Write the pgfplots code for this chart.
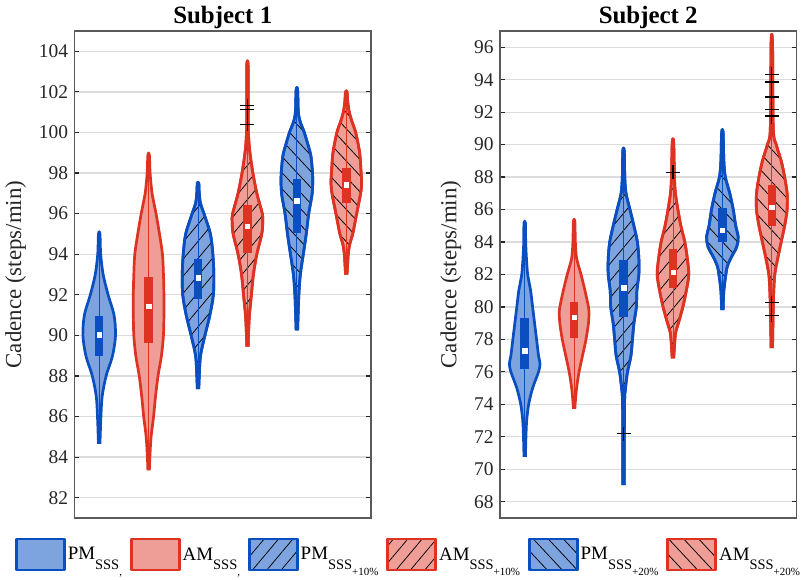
\documentclass[border=0pt]{standalone}
\usepackage{fontspec}
\setmainfont{Liberation Serif}
\usepackage{pgfplots}
\pgfplotsset{compat=1.18}
\usetikzlibrary{patterns.meta}

\definecolor{bedge}{RGB}{10,78,192}
\definecolor{bfill}{RGB}{125,164,222}
\definecolor{redge}{RGB}{222,50,34}
\definecolor{rfill}{RGB}{238,158,150}
\definecolor{gridc}{RGB}{220,220,220}
\definecolor{framec}{RGB}{90,90,90}

% violin outline: #1 centre, #2 style, #3 list of y/halfwidth (bottom to top)
\newcommand\violin[3]{%
  \gdef\vR{}\gdef\vL{}%
  \foreach \yy/\ww in {#3}{%
    \pgfmathsetmacro\xr{#1+\ww}%
    \pgfmathsetmacro\xl{#1-\ww}%
    \xdef\vR{\vR(\xr,\yy)}%
    \xdef\vL{(\xl,\yy)\vL}}%
  \edef\vtmp{\noexpand\addplot[#2] coordinates {\vR\vL};}%
  \vtmp}

\newcommand\lab[2]{#1\raisebox{-9.5bp}{\fontsize{14.5}{15}\selectfont SSS\raisebox{-6bp}{\fontsize{11}{12}\selectfont #2}}}

\pgfplotsset{
  panel/.style={
    scale only axis, width=296.5bp, height=487bp,
    xmin=0.5, xmax=6.5, xtick=\empty,
    ytick pos=both, tick align=inside, major tick length=5bp,
    major tick style={draw=black!85, line width=1.2bp},
    axis line style={draw=framec, line width=1.2bp},
    ymajorgrids=true, major grid style={draw=gridc, line width=1.3bp},
    /pgf/number format/assume math mode=true,
    tick label style={font=\fontsize{19.5}{21}\selectfont, text=black!85},
    yticklabel style={xshift=-3bp},
    ylabel={Cadence (steps/min)}, ylabel shift=6bp,
    ylabel style={font=\fontsize{23}{26}\selectfont, text=black!85},
    title style={font=\fontsize{25}{27}\selectfont\bfseries, yshift=-7bp},
    anchor=south west,
  },
  vB/.style={draw=bedge, fill=bfill, line width=2.7bp, line join=round, smooth, tension=0.5},
  vR/.style={draw=redge, fill=rfill, line width=2.7bp, line join=round, smooth, tension=0.5},
  hA/.style={postaction={pattern={Lines[angle=50,distance=11bp,line width=0.75bp]}}},
  hB/.style={postaction={pattern={Lines[angle=-47,distance=11bp,line width=0.75bp]}}},
  bxB/.style={forget plot, bedge, line width=8.5bp},
  bxR/.style={forget plot, redge, line width=8.5bp},
  wkB/.style={forget plot, bedge, line width=0.8bp},
  wkR/.style={forget plot, redge, line width=0.8bp},
  med/.style={forget plot, only marks, mark=square*, mark size=2.2bp, white},
  outl/.style={forget plot, only marks, mark=+, mark size=7bp, black, line width=1.1bp},
}

\begin{document}
\begin{tikzpicture}
\useasboundingbox (-74.5bp,-62bp) rectangle (733.5bp,518bp);

% ---------------- Subject 1 ----------------
\begin{axis}[panel, at={(0bp,0bp)}, title={Subject 1},
  ymin=81, ymax=105, ytick={82,84,...,104},
  legend columns=6,
  legend style={draw=none, fill=none, at={(-0.211,-0.075)}, anchor=west,
    font=\fontsize{19}{21}\selectfont,
    /tikz/every even column/.append style={column sep=6bp}},
  legend image code/.code={\draw[#1] (0bp,-15.5bp) rectangle (48bp,15.5bp);},
]
\violin{1}{vB}{84.65/0.015, 85/0.02, 86/0.035, 87/0.06, 88/0.14, 89/0.27, 90/0.33, 91/0.30, 92/0.18, 93/0.08, 94/0.03, 95/0.015}
\addlegendentry{\lab{PM}{,}}
\violin{2}{vR}{83.35/0.015, 84/0.025, 85/0.05, 86/0.10, 87/0.14, 88/0.19, 89/0.26, 90/0.30, 91/0.31, 92/0.31, 93/0.30, 94/0.28, 95/0.22, 96/0.15, 97/0.07, 98/0.03, 98.9/0.015}
\addlegendentry{\lab{AM}{,}}
\violin{3}{vB,hA}{87.35/0.015, 88/0.025, 89/0.05, 90/0.14, 91/0.24, 92/0.31, 93/0.32, 94/0.30, 95/0.25, 96/0.12, 96.5/0.05, 97/0.025, 97.5/0.015}
\addlegendentry{\lab{PM}{+10\%}}
\violin{4}{vR,hA}{89.45/0.015, 90/0.02, 91/0.04, 92/0.08, 93/0.12, 94/0.19, 95/0.29, 95.6/0.31, 96/0.30, 97/0.19, 98/0.11, 99/0.05, 99.7/0.025, 100.5/0.015, 103.25/0.015}
\addlegendentry{\lab{AM}{+10\%}}
\violin{5}{vB,hB}{90.25/0.015, 91/0.025, 92/0.04, 93/0.07, 94/0.13, 95/0.19, 96/0.24, 97/0.31, 97.8/0.32, 98.5/0.30, 99/0.27, 100/0.15, 100.5/0.07, 101/0.03, 102.1/0.015}
\addlegendentry{\lab{PM}{+20\%}}
\violin{6}{vR,hB}{93/0.015, 94/0.04, 94.5/0.07, 95/0.13, 96/0.21, 97/0.29, 97.5/0.31, 98/0.30, 99/0.27, 100/0.19, 100.5/0.12, 101/0.06, 101.5/0.03, 102/0.015}
\addlegendentry{\lab{AM}{+20\%}}

\addplot[wkB] coordinates {(1,84.8) (1,94.9)};
\addplot[wkR] coordinates {(2,83.5) (2,98.8)};
\addplot[wkB] coordinates {(3,87.5) (3,97.4)};
\addplot[wkR] coordinates {(4,89.6) (4,103.1)};
\addplot[wkB] coordinates {(5,90.4) (5,102.0)};
\addplot[wkR] coordinates {(6,93.1) (6,101.9)};

\addplot[bxB] coordinates {(1,89.0) (1,90.97)};
\addplot[bxR] coordinates {(2,89.6) (2,92.87)};
\addplot[bxB] coordinates {(3,91.8) (3,93.77)};
\addplot[bxR] coordinates {(4,94.06) (4,96.43)};
\addplot[bxB] coordinates {(5,95.04) (5,97.7)};
\addplot[bxR] coordinates {(6,96.52) (6,98.24)};

\addplot[med] coordinates {(1,90.03) (2,91.44) (3,92.84) (4,95.37) (5,96.63) (6,97.42)};
\addplot[outl] coordinates {(4,101.31) (4,101.13) (4,100.41)};
\end{axis}

% ---------------- Subject 2 ----------------
\begin{axis}[panel, at={(425.5bp,0bp)}, title={Subject 2},
  ymin=67, ymax=97, ytick={68,70,...,96},
]
\violin{1}{vB}{70.76/0.015, 72/0.025, 73/0.04, 74/0.08, 75/0.16, 76/0.28, 76.5/0.31, 77/0.28, 78/0.24, 79/0.20, 80/0.16, 81/0.12, 82/0.06, 83/0.035, 84/0.02, 85.17/0.015}
\violin{2}{vR}{73.72/0.015, 74/0.02, 75/0.05, 76/0.10, 77/0.17, 78/0.24, 79/0.29, 79.6/0.30, 80/0.29, 81/0.22, 82/0.14, 83/0.05, 84/0.025, 85.27/0.015}
\violin{3}{vB,hA}{69.02/0.015, 74/0.02, 75/0.04, 76/0.08, 77/0.15, 78/0.18, 79/0.21, 80/0.26, 81/0.27, 82/0.31, 83/0.31, 84/0.28, 85/0.21, 86/0.13, 87/0.05, 88/0.025, 89.62/0.015}
\violin{4}{vR,hA}{76.83/0.015, 78/0.04, 78.5/0.06, 79/0.11, 80/0.20, 81/0.27, 82/0.32, 83/0.29, 84/0.24, 85/0.16, 86/0.10, 87/0.05, 88/0.03, 90.14/0.015}
\violin{5}{vB,hB}{79.81/0.015, 81/0.03, 82/0.07, 82.5/0.10, 83/0.17, 83.7/0.29, 84.3/0.32, 85/0.27, 86/0.22, 87/0.15, 88/0.06, 89/0.03, 90.75/0.015}
\violin{6}{vR,hB}{77.47/0.015, 80/0.03, 81/0.04, 82/0.06, 83/0.12, 84/0.19, 85/0.26, 86/0.31, 87/0.31, 88/0.26, 89/0.19, 90/0.09, 91/0.03, 96.25/0.015}

\addplot[wkB] coordinates {(1,70.9) (1,85.0)};
\addplot[wkR] coordinates {(2,73.9) (2,85.1)};
\addplot[wkB] coordinates {(3,69.2) (3,89.5)};
\addplot[wkR] coordinates {(4,77.0) (4,90.0)};
\addplot[wkB] coordinates {(5,80.0) (5,90.6)};
\addplot[wkR] coordinates {(6,77.6) (6,96.1)};

\addplot[bxB] coordinates {(1,76.18) (1,79.29)};
\addplot[bxR] coordinates {(2,78.06) (2,80.3)};
\addplot[bxB] coordinates {(3,79.38) (3,82.92)};
\addplot[bxR] coordinates {(4,81.14) (4,83.58)};
\addplot[bxB] coordinates {(5,83.98) (5,86.09)};
\addplot[bxR] coordinates {(6,85.0) (6,87.52)};

\addplot[med] coordinates {(1,77.3) (2,79.38) (3,81.19) (4,82.14) (5,84.72) (6,86.15)};
\addplot[outl] coordinates {(3,72.19) (4,88.3) (6,94.33) (6,93.87) (6,93.80) (6,92.96) (6,92.88) (6,92.18) (6,91.80) (6,91.72) (6,80.27) (6,79.49)};
\end{axis}
\end{tikzpicture}
\end{document}
